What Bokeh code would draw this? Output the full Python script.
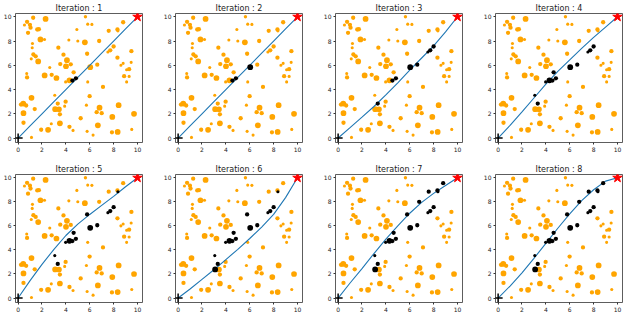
from bokeh.plotting import figure
from bokeh.layouts import column, row
from bokeh.models import FixedTicker, ColumnDataSource, Range1d
from bokeh.embed import file_html
from bokeh.resources import INLINE

# ---------------- data ----------------
# obstacles: centre x, centre y, radius (data units), iteration at which it was hit (0 = never)
obs_x = [5.64, 1.26, 2.30, 0.75, 0.53, 0.99, 1.04, 0.83, 1.60, 1.74,
         4.92, 5.83, 6.18, 7.59, 8.32, 8.36, 8.80, 1.87, 2.21, 4.25,
         5.00, 5.59, 6.79, 1.20, 1.18, 3.37, 5.78, 7.52, 7.72, 8.00,
         9.49, 1.28, 1.47, 1.10, 1.68, 3.80, 4.09, 3.53, 4.41, 4.01,
         6.63, 6.04, 8.32, 8.80, 8.61, 9.47, 9.30, 9.09, 8.88, 9.30,
         9.09, 2.65, 0.72, 0.75, 2.22, 2.81, 3.21, 4.65, 4.30, 3.98,
         5.83, 7.11, 4.55, 4.84, 3.07, 1.12, 5.99, 0.43, 0.24, 0.67,
         3.32, 3.98, 3.90, 5.72, 1.39, 3.10, 3.42, 6.82, 8.42, 6.58,
         0.45, 3.50, 7.00, 9.71, 5.24, 7.89, 0.45, 2.78, 3.50, 6.68,
         4.30, 1.93, 2.51, 4.60, 5.78, 7.86, 8.34, 9.52, 1.12, 6.28]
obs_y = [10.00, 9.92, 9.82, 9.58, 9.32, 9.34, 9.10, 8.68, 8.95, 8.97,
         8.95, 9.39, 9.37, 8.84, 8.95, 8.84, 9.55, 8.13, 8.13, 8.08,
         8.00, 7.89, 8.00, 7.79, 7.45, 7.45, 6.95, 7.10, 7.23, 7.55,
         7.16, 6.89, 6.74, 6.53, 6.32, 6.87, 6.42, 6.10, 6.08, 5.92,
         6.05, 5.84, 6.63, 6.16, 6.00, 6.24, 5.68, 5.63, 5.10, 5.08,
         4.63, 5.82, 5.32, 5.00, 5.16, 5.21, 4.95, 5.42, 4.76, 4.63,
         4.63, 4.21, 4.74, 4.92, 3.53, 3.32, 3.45, 2.84, 2.76, 2.68,
         2.84, 3.00, 2.63, 2.71, 2.39, 2.38, 2.37, 2.50, 2.71, 2.13,
         2.05, 1.95, 2.05, 2.00, 1.63, 1.74, 1.26, 1.18, 1.21, 1.05,
         0.92, 0.68, 0.68, 0.63, 0.55, 0.47, 0.50, 0.71, 0.05, 0.24]
obs_r = [0.14, 0.18, 0.24, 0.18, 0.13, 0.18, 0.18, 0.18, 0.18, 0.18,
         0.13, 0.13, 0.13, 0.18, 0.18, 0.13, 0.18, 0.24, 0.13, 0.13,
         0.13, 0.24, 0.18, 0.13, 0.13, 0.18, 0.18, 0.13, 0.18, 0.18,
         0.18, 0.18, 0.18, 0.13, 0.24, 0.18, 0.24, 0.18, 0.18, 0.24,
         0.18, 0.24, 0.18, 0.13, 0.13, 0.13, 0.18, 0.13, 0.18, 0.13,
         0.13, 0.13, 0.13, 0.18, 0.24, 0.18, 0.24, 0.18, 0.24, 0.13,
         0.13, 0.18, 0.18, 0.18, 0.13, 0.24, 0.18, 0.24, 0.18, 0.18,
         0.18, 0.18, 0.13, 0.13, 0.18, 0.24, 0.24, 0.24, 0.24, 0.18,
         0.24, 0.18, 0.18, 0.24, 0.18, 0.24, 0.18, 0.13, 0.24, 0.24,
         0.18, 0.18, 0.24, 0.13, 0.13, 0.18, 0.24, 0.13, 0.13, 0.13]
obs_hit = [0, 0, 0, 0, 0, 0, 0, 0, 0, 0,
           0, 0, 0, 7, 7, 5, 7, 0, 0, 0,
           0, 0, 7, 0, 0, 0, 5, 3, 3, 3,
           0, 0, 0, 0, 0, 0, 0, 0, 0, 0,
           3, 2, 0, 0, 0, 0, 0, 0, 0, 0,
           0, 0, 0, 0, 0, 0, 0, 4, 4, 4,
           0, 0, 1, 1, 4, 0, 0, 0, 0, 0,
           3, 0, 0, 0, 0, 6, 0, 0, 0, 0,
           0, 0, 0, 0, 0, 0, 0, 0, 0, 0,
           0, 0, 0, 0, 0, 0, 0, 0, 0, 0]

# planned path per iteration (y read at x = 0..10)
path_x = [0, 1, 2, 3, 4, 5, 6, 7, 8, 9, 10]
path_y1 = [0, 1, 2, 3, 4, 5, 6, 7, 8, 9, 10]
path_y2 = [0, 1, 2, 3, 4, 5, 6, 7, 8, 9, 10]
path_y3 = [0, 0.85, 1.72, 2.6, 3.55, 4.55, 5.6, 6.6, 7.6, 8.75, 10]
path_y4 = [0, 1.05, 2.15, 3.3, 4.45, 5.5, 6.45, 7.4, 8.3, 9.15, 10]
path_y5 = [0, 1.45, 2.8, 4.05, 5.2, 6.15, 6.95, 7.7, 8.45, 9.25, 10]
path_y6 = [0, 0.75, 1.55, 2.35, 3.2, 4.05, 4.95, 5.9, 6.95, 8.35, 10]
path_y7 = [0, 1.25, 2.45, 3.7, 4.9, 6.0, 7.05, 7.95, 8.7, 9.35, 10]
path_y8 = [0, 1.0, 2.1, 3.3, 4.55, 5.8, 7.0, 8.1, 9.0, 9.72, 10]
paths_y = [path_y1, path_y2, path_y3, path_y4, path_y5, path_y6, path_y7, path_y8]

iterations = [1, 2, 3, 4, 5, 6, 7, 8]
start_x, start_y = [0], [0]
goal_x, goal_y = [10], [10]
ticks = [0, 2, 4, 6, 8, 10]

# ---------------- layout ----------------
FONT = "DejaVu Sans"
col_left = [14, 14, 14, 14]
col_right = [18, 18, 18, 2]
frame_w = 128
row_top = [12, 12]
row_bottom = [19, 11]
frame_h = 130


def make_panel(k, ci, ri):
    w = col_left[ci] + frame_w + col_right[ci]
    h = row_top[ri] + frame_h + row_bottom[ri]
    p = figure(width=w, height=h, output_backend="svg", toolbar_location=None, tools="",
               x_range=Range1d(-0.22, 10.42), y_range=Range1d(-0.37, 10.27),
               title=f"Iteration : {k}",
               min_border=0,
               min_border_left=col_left[ci], min_border_right=col_right[ci],
               min_border_top=row_top[ri], min_border_bottom=row_bottom[ri])
    p.title.align = "center"
    p.title.text_font = FONT
    p.title.text_font_size = "8px"
    p.title.text_font_style = "normal"
    p.title.text_color = "#222222"
    p.title.standoff = 2
    p.title.offset = 0
    p.xgrid.visible = False
    p.ygrid.visible = False
    p.outline_line_color = "#333333"
    p.outline_line_width = 0.8
    p.outline_line_alpha = 1
    for ax in (p.xaxis[0], p.yaxis[0]):
        ax.ticker = FixedTicker(ticks=ticks)
        ax.axis_line_color = None
        ax.major_tick_out = 2
        ax.major_tick_in = 0
        ax.minor_tick_out = 0
        ax.minor_tick_in = 0
        ax.major_tick_line_color = "#333333"
        ax.major_label_text_font = FONT
        ax.major_label_text_font_size = "6px"
        ax.major_label_text_color = "#222222"
        ax.major_label_standoff = 2

    hit = [0 < hv <= k for hv in obs_hit]
    orange = ColumnDataSource(dict(
        x=[x for x, hv in zip(obs_x, hit) if not hv],
        y=[y for y, hv in zip(obs_y, hit) if not hv],
        r=[r for r, hv in zip(obs_r, hit) if not hv]))
    black = ColumnDataSource(dict(
        x=[x for x, hv in zip(obs_x, hit) if hv],
        y=[y for y, hv in zip(obs_y, hit) if hv],
        r=[r for r, hv in zip(obs_r, hit) if hv]))
    p.circle(x="x", y="y", radius="r", source=orange, fill_color="#FFA500", line_color=None)
    p.line(path_x, paths_y[k - 1], line_color="#1f77b4", line_width=1.1)
    p.circle(x="x", y="y", radius="r", source=black, fill_color="black", line_color=None)
    p.scatter(start_x, start_y, marker="cross", size=9, line_color="black", line_width=1.5)
    p.scatter(goal_x, goal_y, marker="star", size=10, fill_color="red", line_color="red")
    return p


rows = []
for ri in range(2):
    figs = []
    for ci in range(4):
        k = iterations[ri * 4 + ci]
        figs.append(make_panel(k, ci, ri))
    rows.append(row(*figs, spacing=0))
layout = column(*rows, spacing=0)

open("out.html", "w").write(file_html(layout, INLINE))
